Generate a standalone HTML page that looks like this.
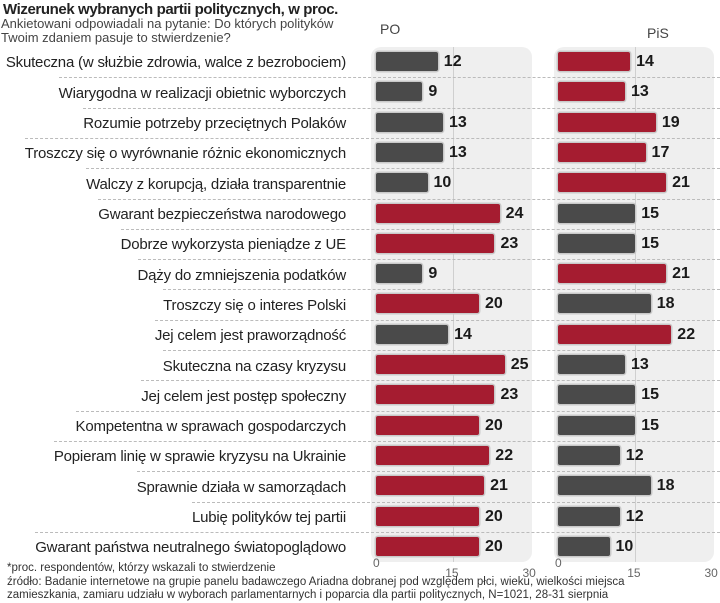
<!DOCTYPE html>
<html><head><meta charset="utf-8">
<style>
body{margin:0;width:720px;height:603px;background:#fff;position:relative;overflow:hidden;font-family:"Liberation Sans",sans-serif;color:#222}
.abs{position:absolute}
.row{position:absolute;left:0;width:720px;height:30px;display:flex;justify-content:flex-end}
.inner{display:flex;align-items:center;height:30px}
.inner.sep{border-top:1px dashed #bbb}
.lbl{font-size:15px;white-space:nowrap;letter-spacing:-0.2px}
.val{position:absolute;font-size:16px;font-weight:bold;color:#1a1a1a;font-family:"Liberation Sans Narrow","Liberation Sans",sans-serif}
.bar{position:absolute;height:19px;border-radius:2px;box-shadow:0 0 0 1.5px #c9c9c9}
.tick{position:absolute;font-size:12px;color:#666}
</style></head><body>
<div class="abs" style="left:3px;top:1px;font-size:15px;font-weight:bold;letter-spacing:-0.4px">Wizerunek wybranych partii politycznych, w proc.</div>
<div class="abs" style="left:1px;top:17px;font-size:13px;line-height:14px;color:#444">Ankietowani odpowiadali na pytanie: Do których polityków<br>Twoim zdaniem pasuje to stwierdzenie?</div>
<div class="abs" style="left:371px;top:47px;width:161px;height:515px;background:#efefef;border-radius:10px"></div>
<div class="abs" style="left:554px;top:47px;width:160px;height:515px;background:#efefef;border-radius:10px"></div>
<div class="abs" style="left:380px;top:21px;font-size:14px;color:#444">PO</div>
<div class="abs" style="left:647px;top:25px;font-size:14px;color:#444">PiS</div>
<div id="chart"></div>
<div class="abs" style="left:7px;top:562px;font-size:11.5px;line-height:13.5px;color:#333">*proc. respondentów, którzy wskazali to stwierdzenie<br>źródło: Badanie internetowe na grupie panelu badawczego Ariadna dobranej pod względem płci, wieku, wielkości miejsca<br>zamieszkania, zamiaru udziału w wyborach parlamentarnych i poparcia dla partii politycznych, N=1021, 28-31 sierpnia</div>
<script>
const categories=["Skuteczna (w służbie zdrowia, walce z bezrobociem)","Wiarygodna w realizacji obietnic wyborczych","Rozumie potrzeby przeciętnych Polaków","Troszczy się  o wyrównanie różnic ekonomicznych","Walczy z korupcją, działa transparentnie","Gwarant bezpieczeństwa narodowego","Dobrze wykorzysta pieniądze z UE","Dąży do zmniejszenia podatków","Troszczy się o interes Polski","Jej celem jest praworządność","Skuteczna na czasy kryzysu","Jej celem jest postęp społeczny","Kompetentna w sprawach gospodarczych","Popieram linię w sprawie kryzysu na Ukrainie","Sprawnie działa w samorządach","Lubię polityków tej partii","Gwarant państwa neutralnego światopoglądowo"];
const poValues=[12,9,13,13,10,24,23,9,20,14,25,23,20,22,21,20,20];
const pisValues=[14,13,19,17,21,15,15,21,18,22,13,15,15,12,18,12,10];
const ticks=[0,15,30];
const RED="#a51c30",GRAY="#4a4a4a";
const sc=5.15, rowH=30.3, top0=47;
const poX=v=>376+v*sc, pisX=v=>558+v*sc, rowY=i=>top0+i*rowH;
const c=document.getElementById('chart');
function mk(cls,parent){const e=document.createElement('div');e.className=cls;(parent||c).appendChild(e);return e;}
[[poX,'po'],[pisX,'pis']].forEach(([f,n])=>{
  const g=mk('abs');g.style.cssText=`left:${f(15)}px;top:47px;width:1px;height:515px;background:#cfcfcf`;
  
  
  ticks.forEach(t=>{const e=mk('tick');e.textContent=t;e.style.left=(f(t)-(t?8:3))+'px';e.style.top=(t?566:556)+'px';
    
    });
});
categories.forEach((cat,i)=>{
  const r=mk('row');r.style.top=rowY(i)+'px';
  
  
  const inn=mk('inner'+(i?' sep':''),r);
  const l=document.createElement('span');l.className='lbl';l.textContent=cat;inn.appendChild(l);
  
  
  const sp=document.createElement('span');sp.style.width='374px';inn.appendChild(sp);
  const y=rowY(i)+5;
  const po=poValues[i],pis=pisValues[i];
  [[po,poX,po>=pis,'po'],[pis,pisX,pis>po,'pis']].forEach(([v,f,hi,n])=>{
    const b=mk('bar');b.style.left=f(0)+'px';b.style.top=y+'px';b.style.width=(f(v)-f(0))+'px';b.style.background=hi?RED:GRAY;
    
    
    const t=mk('val');t.textContent=v;t.style.left=(f(v)+6)+'px';t.style.top=(y+1)+'px';
    
    
  });
});
</script>
</body></html>
